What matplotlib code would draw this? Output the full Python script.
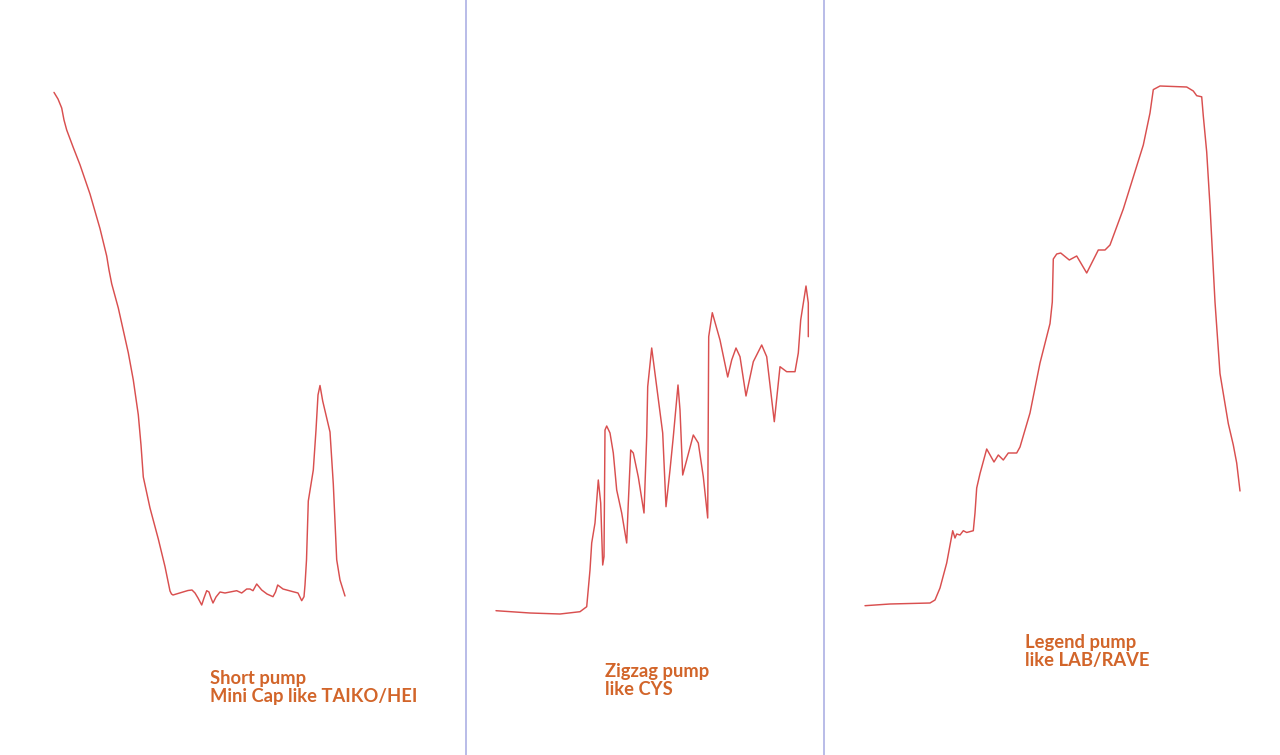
import matplotlib
matplotlib.use("Agg")
import matplotlib.pyplot as plt

# ---- data (time index, price level) ----
short_t = [54, 58, 61.7, 64, 66.7, 73.3, 80, 90, 100, 106.7, 109, 111.7, 118.3, 128.3, 133.3, 138.3,
           141, 143.3, 150, 158.3, 165, 170, 171.5, 173, 178, 183, 188, 192, 195, 198, 201.7, 204,
           206.7, 209, 211, 213, 216, 220, 225, 230, 236.7, 241.7, 246.7, 250, 253, 256.7, 261.7,
           267, 273, 275.5, 277.7, 283, 293, 298, 301.7, 304, 305, 306.5, 308.3, 313.3, 316, 318,
           320, 322.7, 326, 330, 333.3, 336.7, 340, 345]
short_p = [92.4, 99, 108, 120, 130, 147.6, 164.8, 194, 228.6, 256, 270, 283.8, 308, 352.8, 380,
           414.8, 445, 477, 508, 539, 566.6, 591, 594, 595, 593.5, 592, 590.5, 590, 593, 598, 605,
           598, 590.7, 592, 598, 603, 597, 592, 593, 592, 590.7, 593, 589, 589, 590.7, 584, 590,
           594, 596.7, 592, 585, 589, 591.7, 593, 600.7, 596.7, 585, 560, 501, 470, 430, 395,
           385.5, 401, 415, 432, 484, 559.7, 580, 596]

zig_t = [496, 530, 560, 580, 586.7, 590, 591.7, 595, 598.3, 600.7, 602.7, 604, 605, 606.7, 610,
         613.3, 616.7, 621.7, 626.7, 628.3, 630.7, 633.3, 638.3, 644, 646.7, 647.7, 651.7,
         656.7, 662.7, 666, 670, 673.3, 678, 680, 682.7, 686.7, 693.3, 698.3, 703.3, 707.7,
         708.7, 712.3, 720, 727.7, 731.7, 736, 740, 746, 753.3, 761.7, 766.7, 774.3, 780,
         786.7, 795, 798.3, 800.7, 806, 808.3, 808.3]
zig_p = [610.7, 613, 614, 611.7, 606.7, 570, 543, 523, 480, 503, 565, 556.7, 430, 426, 433,
         453, 490, 513, 543, 503, 450, 453, 477, 513, 436.7, 386.7, 348,
         386.7, 433, 506.7, 470, 436.7, 385, 410, 475, 460, 435, 443, 476.7, 518,
         336.7, 312.7, 340, 377, 360, 348, 356.7, 396, 361.7, 345, 356.7, 421.7, 366.7,
         371.7, 371.7, 353, 320, 286, 303, 336.7]

legend_t = [865, 890, 930, 935, 940, 946.7, 952.7, 955, 956.7, 960, 963.3, 966.7, 973.3, 975,
            976.7, 980, 986.7, 994, 998.3, 1003.3, 1008.3, 1016.7, 1020, 1030, 1040, 1050,
            1052.3, 1053.3, 1056.7, 1060.7, 1069.3, 1076.7, 1086.7, 1098.3, 1105, 1110,
            1123.3, 1133.3, 1143.3, 1150, 1153.3, 1160, 1186.7, 1193.3, 1196.7, 1201.7,
            1203.3, 1206.7, 1210, 1215, 1220, 1228.3, 1233.3, 1236.7, 1240]
legend_p = [605.7, 604, 603, 600, 588, 563, 530.7, 538, 534, 535, 530.7, 532.5, 530.7, 513,
            488, 473.6, 449, 462, 455, 460, 453, 453, 447, 413, 363, 323.6,
            302, 259, 254, 253, 260, 256, 273, 250, 250, 245,
            209, 177, 145, 113, 89.6, 86, 87, 91, 95.7, 96.8,
            116, 152, 206, 302, 373.6, 423.6, 445, 463, 491]

separators = [466, 823.5]

labels = ["Short pump\nMini Cap like TAIKO/HEI", "Zigzag pump\nlike CYS", "Legend pump\nlike LAB/RAVE"]
label_pos = [(210, 670), (605, 663), (1025, 634)]

H = 755
fig = plt.figure(figsize=(12.8, 7.55), dpi=100)
ax = fig.add_axes([0, 0, 1, 1])
ax.set_xlim(0, 1280)
ax.set_ylim(H, 0)
ax.axis("off")

red = "#d94f4f"
for t, p in [(short_t, short_p), (zig_t, zig_p), (legend_t, legend_p)]:
    ax.plot(t, p, color=red, lw=1.05, solid_joinstyle="round", solid_capstyle="round")

for s in separators:
    ax.axvline(s, color="#b3b6e6", lw=1.3)

for lab, (x, y) in zip(labels, label_pos):
    ax.text(x, y, lab, color="#d2652a", fontsize=13.2, fontweight="bold",
            family=["Lato", "DejaVu Sans"], va="top", ha="left", linespacing=1.1)

fig.savefig("out.png", dpi=100, facecolor="white")
